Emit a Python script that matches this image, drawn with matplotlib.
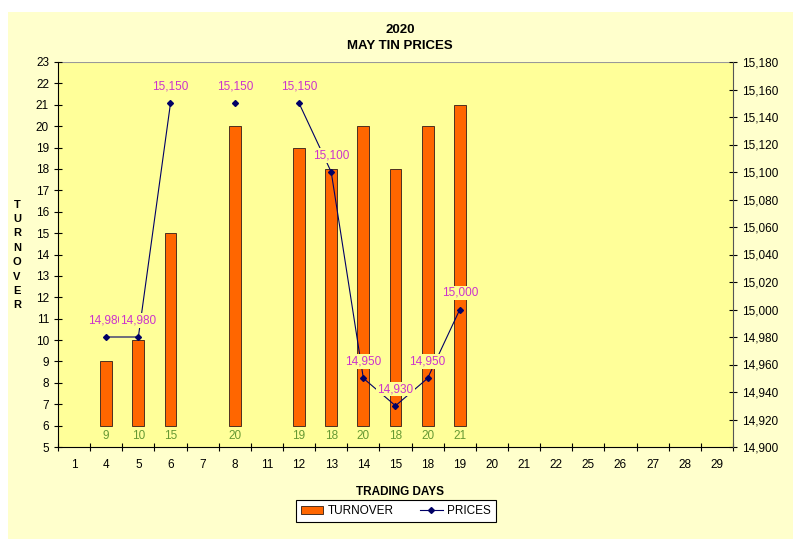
import matplotlib
matplotlib.use("Agg")
import matplotlib.pyplot as plt
from matplotlib.patches import Rectangle
from matplotlib.ticker import FuncFormatter, FixedLocator
import numpy as np

plt.rcParams['font.family'] = ['Liberation Sans', 'DejaVu Sans']

days = ['1', '4', '5', '6', '7', '8', '11', '12', '13', '14', '15', '18', '19',
        '20', '21', '22', '25', '26', '27', '28', '29']
turnover = [None, 9, 10, 15, None, 20, None, 19, 18, 20, 18, 20, 21,
            None, None, None, None, None, None, None, None]
prices = [None, 14980, 14980, 15150, None, 15150, None, 15150, 15100, 14950, 14930, 14950, 15000,
          None, None, None, None, None, None, None, None]
bar_base = 6

fig = plt.figure(figsize=(7.93, 5.39), dpi=100)
fig.patch.set_facecolor('white')
fig.patches.append(Rectangle((8 / 793, 0.0), 1 - 8 / 793, 1 - 12 / 539, transform=fig.transFigure,
                             facecolor='#FFFFCC', edgecolor='none', zorder=-10))

ax = fig.add_axes([58 / 793, 1 - 447 / 539, (733 - 58) / 793, (447 - 62) / 539])
ax.set_facecolor('#FFFF99')
x = np.arange(len(days))

bx = [i for i, v in enumerate(turnover) if v is not None]
bv = [turnover[i] for i in bx]
ax.bar(bx, [v - bar_base for v in bv], bottom=bar_base, width=0.37, color='#FF6600',
       edgecolor='#4d3020', linewidth=0.7, zorder=2, label='TURNOVER')
for i, v in zip(bx, bv):
    ax.text(i, 5.5, str(v), ha='center', va='center', color='#669933', fontsize=8.5, zorder=3)

ax.set_xlim(-0.5, len(days) - 0.5)
ax.set_ylim(5, 23)
ax.set_yticks(range(5, 24))
ax.set_xticks(x)
ax.set_xticklabels(days)
ax.xaxis.set_minor_locator(FixedLocator(np.arange(-0.5, len(days), 1.0)))
ax.tick_params(axis='x', which='major', length=0, labelsize=8.5, pad=9)
ax.tick_params(axis='x', which='minor', length=6, direction='inout', width=0.8)
ax.tick_params(axis='y', length=6, direction='inout', labelsize=8.5, width=0.8)
for s in ['top', 'right']:
    ax.spines[s].set_visible(False)
ax.spines['left'].set_linewidth(0.8)
ax.spines['bottom'].set_linewidth(0.8)
ax.axhline(23, color='#999999', linewidth=0.8, zorder=1)

ax2 = ax.twinx()
ax2.set_ylim(14900, 15180)
ax2.set_yticks(range(14900, 15181, 20))
ax2.yaxis.set_major_formatter(FuncFormatter(lambda v, p: f"{int(v):,}"))
ax2.tick_params(axis='y', length=6, direction='inout', labelsize=8.5, width=0.8)
for s in ['top', 'left', 'bottom']:
    ax2.spines[s].set_visible(False)
ax2.spines['right'].set_linewidth(0.8)
ax2.spines['right'].set_color('#555555')

py = np.array([np.nan if v is None else v for v in prices], dtype=float)
ax2.plot(x, py, color='#000066', linewidth=0.8, marker='D', markersize=3,
         markerfacecolor='#000066', markeredgecolor='#000066', zorder=4, label='PRICES')
for i, v in enumerate(prices):
    if v is not None:
        ax2.annotate(f"{v:,}", (i, v), xytext=(0, 12), textcoords='offset points',
                     ha='center', va='center', color='#CC33CC', fontsize=8.5, zorder=5,
                     bbox=dict(boxstyle='square,pad=0.1', facecolor='#FFFF99', edgecolor='none'))

fig.text(400 / 793, 1 - 30 / 539, '2020', ha='center', va='center', fontsize=9.5, fontweight='bold')
fig.text(400 / 793, 1 - 46 / 539, 'MAY TIN PRICES', ha='center', va='center', fontsize=9.5, fontweight='bold')
fig.text(400 / 793, 1 - 492 / 539, 'TRADING DAYS', ha='center', va='center', fontsize=8.5, fontweight='bold')
fig.text(17 / 793, 1 - 255 / 539, 'T\nU\nR\nN\nO\nV\nE\nR', ha='center', va='center',
         fontsize=8, fontweight='bold', linespacing=1.55)

h1, l1 = ax.get_legend_handles_labels()
h2, l2 = ax2.get_legend_handles_labels()
leg = fig.legend(h1 + h2, l1 + l2, loc='center', bbox_to_anchor=(396 / 793, 1 - 511 / 539),
                 ncol=2, fontsize=8.5, frameon=True, fancybox=False, edgecolor='black',
                 facecolor='white', framealpha=1, handlelength=1.9, handleheight=0.6,
                 handletextpad=0.4, columnspacing=2.2, borderpad=0.45, borderaxespad=0)
leg.get_frame().set_linewidth(0.8)

fig.savefig('out.png', dpi=100)
